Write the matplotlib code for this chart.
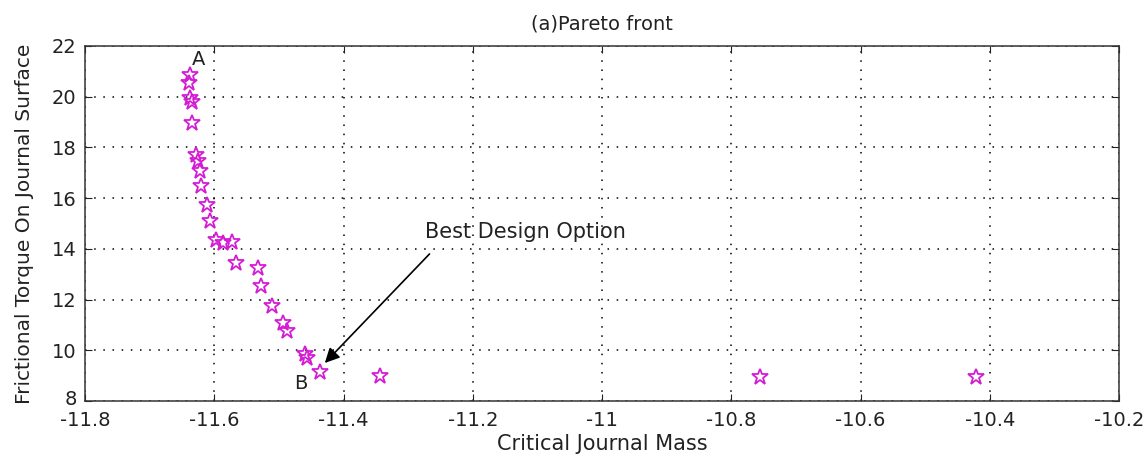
import matplotlib
matplotlib.use("Agg")
import matplotlib.pyplot as plt
import matplotlib.transforms as mtransforms

plt.rcParams['font.family'] = ['DejaVu Sans']

# Pareto front points
mass = [-11.638, -11.639, -11.638, -11.635, -11.635, -11.629, -11.625, -11.622,
        -11.621, -11.612, -11.607, -11.598, -11.587, -11.573, -11.567, -11.533,
        -11.528, -11.511, -11.493, -11.488, -11.459, -11.457, -11.436, -11.343,
        -10.756, -10.422]
torque = [20.85, 20.55, 19.93, 19.80, 18.98, 17.70, 17.46, 17.07,
          16.48, 15.73, 15.10, 14.33, 14.25, 14.28, 13.45, 13.25,
          12.55, 11.73, 11.06, 10.75, 9.84, 9.68, 9.16, 8.97,
          8.93, 8.93]

title = "(a)Pareto front"
xlabel = "Critical Journal Mass"
ylabel = "Frictional Torque On Journal Surface"
xticks = [-11.8, -11.6, -11.4, -11.2, -11.0, -10.8, -10.6, -10.4, -10.2]
xticklabels = ["-11.8", "-11.6", "-11.4", "-11.2", "-11", "-10.8", "-10.6", "-10.4", "-10.2"]
yticks = [8, 10, 12, 14, 16, 18, 20, 22]
label_A = ("A", -11.624, 21.45)
label_B = ("B", -11.466, 8.7)
best_text = ("Best Design Option", -11.118, 14.68)
arrow_start = (-11.264, 13.88)
arrow_tip = (-11.432, 9.42)

fig = plt.figure(figsize=(11.46, 4.54), dpi=100)
ax = fig.add_axes([0.0742, 0.1167, 0.9024, 0.782])

ax.plot(mass, torque, linestyle='none', marker='*', markersize=12,
        markerfacecolor='none', markeredgecolor='#d41cd4', markeredgewidth=1.3)

ax.set_xlim(-11.8, -10.2)
ax.set_ylim(8, 22)
ax.set_xticks(xticks)
ax.set_xticklabels(xticklabels)
ax.set_yticks(yticks)
ax.tick_params(direction='in', top=True, right=True, labelsize=14, length=5,
               colors='#222222')
ax.tick_params(axis='x', pad=7)
ax.tick_params(axis='y', pad=6)
ax.grid(True, color='black', linestyle=(0, (1, 5)), linewidth=1.1)
for s in ax.spines.values():
    s.set_color('#333333')
    s.set_linewidth(1.1)

# MATLAB nudges the lowest y tick label upward
lab8 = ax.get_yticklabels()[0]
lab8.set_transform(lab8.get_transform() +
                   mtransforms.ScaledTranslation(0, 4 / 100, fig.dpi_scale_trans))

ax.set_title(title, fontsize=14, pad=12, color='#222222')
ax.set_xlabel(xlabel, fontsize=15, color='#222222', labelpad=3)
ax.set_ylabel(ylabel, fontsize=14.5, color='#222222', labelpad=13)

ax.text(label_A[1], label_A[2], label_A[0], fontsize=14, ha='center', va='center', color='#222222')
ax.text(label_B[1], label_B[2], label_B[0], fontsize=14, ha='center', va='center', color='#222222')
ax.text(best_text[1], best_text[2], best_text[0], fontsize=15, ha='center', va='center', color='#222222')
ax.annotate('', xy=arrow_tip, xytext=arrow_start,
            arrowprops=dict(arrowstyle='-|>', color='black', lw=1.2, mutation_scale=22))

fig.savefig('out.png', dpi=100)
